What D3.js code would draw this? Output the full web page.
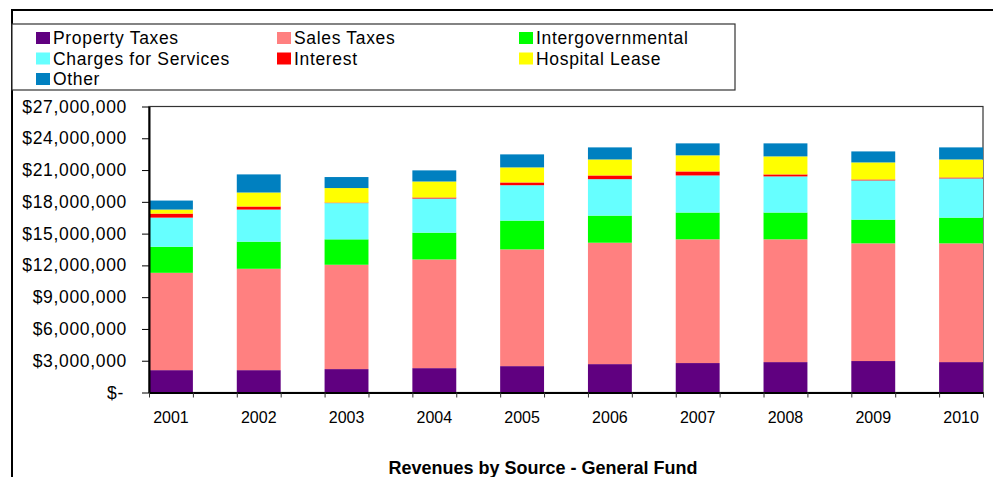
<!DOCTYPE html>
<html>
<head>
<meta charset="utf-8">
<script src="https://cdn.jsdelivr.net/npm/d3@7"></script>
<style>
	body { margin: 0; background: #fff; }
	svg { display: block; font-family: Arial, "Liberation Sans", sans-serif; }
	.axis path, .axis line { stroke: #000; }
</style>
</head>
<body>
<svg id="chart" width="993" height="477"></svg>
<script>
var years = ["2001", "2002", "2003", "2004", "2005", "2006", "2007", "2008", "2009", "2010"];
var seriesNames = ["Property Taxes", "Sales Taxes", "Intergovernmental", "Charges for Services", "Interest", "Hospital Lease", "Other"];
var seriesColors = ["#600080", "#ff8080", "#00ff00", "#66ffff", "#ff0000", "#ffff00", "#0080c0"];

// values in dollars
var propertyTaxes = [2110000, 2110000, 2210000, 2300000, 2490000, 2680000, 2780000, 2870000, 2970000, 2870000];
var salesTaxes = [9190000, 9570000, 9850000, 10260000, 11020000, 11460000, 11680000, 11590000, 11110000, 11210000];
var intergovernmental = [2460000, 2560000, 2400000, 2530000, 2720000, 2560000, 2530000, 2530000, 2240000, 2430000];
var chargesForServices = [2750000, 3030000, 3420000, 3220000, 3340000, 3440000, 3500000, 3410000, 3700000, 3700000];
var interest = [380000, 290000, 50000, 100000, 260000, 350000, 380000, 190000, 90000, 90000];
var hospitalLease = [380000, 1320000, 1370000, 1510000, 1420000, 1510000, 1520000, 1700000, 1610000, 1700000];
var other = [850000, 1710000, 1040000, 1050000, 1230000, 1140000, 1130000, 1230000, 1040000, 1140000];

var yTicks = [0, 3000000, 6000000, 9000000, 12000000, 15000000, 18000000, 21000000, 24000000, 27000000];
var chartTitle = "Revenues by Source - General Fund";

var svg = d3.select("#chart");
var plot = {left: 149, right: 983, top: 106.5, bottom: 392.5};

// outer chart frame (only the top and left edges are inside the picture)
svg.append("path")
	.attr("d", "M12,477 L12,10 L993,10")
	.style("fill", "none")
	.style("stroke", "#000")
	.style("stroke-width", 2);

// legend box
svg.append("rect")
	.attr("x", 12)
	.attr("y", 24)
	.attr("width", 723)
	.attr("height", 66)
	.style("fill", "#fff")
	.style("stroke", "#333")
	.style("stroke-width", 1.2);

var legend = svg.append("g");
seriesNames.forEach(function(name, i) {
	var col = i % 3, row = Math.floor(i / 3);
	var colX = [36, 277, 519][col];
	var baseY = 44 + row * 20.5;
	legend.append("rect")
		.attr("x", colX)
		.attr("y", baseY - 12)
		.attr("width", 14)
		.attr("height", 12)
		.style("fill", seriesColors[i]);
	legend.append("text")
		.attr("x", colX + 17)
		.attr("y", baseY)
		.style("font-size", "17.5px")
		.style("letter-spacing", "0.67px")
		.text(name);
});

// stack the series
var table = years.map(function(year, i) {
	return {
		year: year,
		"Property Taxes": propertyTaxes[i],
		"Sales Taxes": salesTaxes[i],
		"Intergovernmental": intergovernmental[i],
		"Charges for Services": chargesForServices[i],
		"Interest": interest[i],
		"Hospital Lease": hospitalLease[i],
		"Other": other[i]
	};
});
var stacked = d3.stack().keys(seriesNames)(table);

// every year sits in its own slot with an empty slot between years
var slots = [];
years.forEach(function(year, i) {
	slots.push(year);
	if (i < years.length - 1) {
		slots.push("gap" + i);
	}
});

var x = d3.scaleBand()
	.domain(slots)
	.range([plot.left, plot.right])
	.paddingInner(0)
	.paddingOuter(0);

var slotEdges = d3.scaleLinear()
	.domain([0, slots.length])
	.range([plot.left, plot.right]);

var y = d3.scaleLinear()
	.domain([0, 27000000])
	.range([plot.bottom, plot.top]);

// plot area border
svg.append("rect")
	.attr("x", plot.left)
	.attr("y", plot.top)
	.attr("width", plot.right - plot.left)
	.attr("height", plot.bottom - plot.top)
	.style("fill", "none")
	.style("stroke", "#333")
	.style("stroke-width", 1.2);

var layers = svg.append("g")
	.selectAll("g")
	.data(stacked)
	.enter()
	.append("g")
		.style("fill", function(d, i) { return seriesColors[i]; });

layers.selectAll("rect")
	.data(function(d) { return d; })
	.enter()
	.append("rect")
		.attr("x", function(d) { return x(d.data.year); })
		.attr("width", x.bandwidth())
		.attr("y", function(d) { return y(d[1]); })
		.attr("height", function(d) { return y(d[0]) - y(d[1]); });

// y axis
var yAxis = svg.append("g")
	.attr("class", "axis")
	.attr("transform", "translate(" + plot.left + ",0)")
	.call(d3.axisLeft(y)
		.tickValues(yTicks)
		.tickSize(7)
		.tickPadding(15)
		.tickSizeOuter(0)
		.tickFormat(function(d) { return d == 0 ? "$-" : "$" + d3.format(",")(d); }));
yAxis.select(".domain").style("stroke-width", 2);
yAxis.selectAll("text")
	.style("font-size", "17.5px")
	.style("letter-spacing", "0.67px")
	.style("fill", "#000");
yAxis.selectAll("text")
	.filter(function(d) { return d == 0; })
	.attr("dx", "-3");

// x axis tick marks on the slot edges
var xEdges = svg.append("g")
	.attr("class", "axis")
	.attr("transform", "translate(0," + plot.bottom + ")")
	.call(d3.axisBottom(slotEdges)
		.tickValues(d3.range(slots.length + 1))
		.tickSize(5)
		.tickSizeOuter(0)
		.tickFormat(""));
xEdges.select(".domain").style("stroke-width", 2);
xEdges.selectAll("line").style("stroke", "#333");

// year labels
var xLabels = svg.append("g")
	.attr("transform", "translate(0," + plot.bottom + ")")
	.call(d3.axisBottom(x)
		.tickValues(years)
		.tickSize(0)
		.tickPadding(19));
xLabels.select(".domain").remove();
xLabels.selectAll("text")
	.style("font-size", "16px")
	.style("fill", "#000");

svg.append("text")
	.attr("x", 543)
	.attr("y", 474)
	.attr("text-anchor", "middle")
	.style("font-size", "18px")
	.style("font-weight", "bold")
	.text(chartTitle);
</script>
</body>
</html>
